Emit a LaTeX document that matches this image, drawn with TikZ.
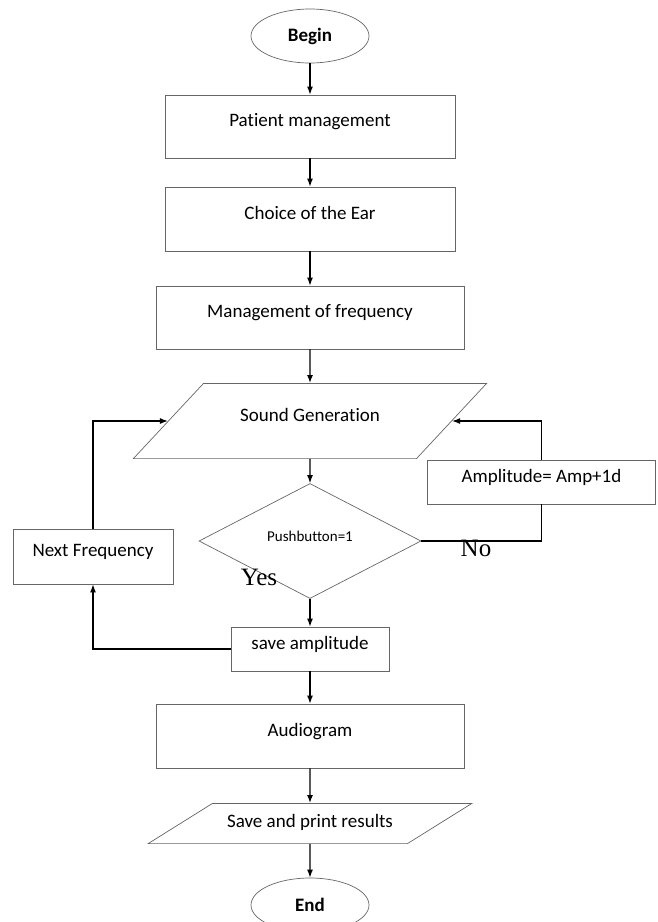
\documentclass[tikz,border=0pt]{standalone}
\usepackage{fontspec}
\setmainfont{Carlito}[Ligatures=NoCommon]
\newfontfamily\yesnofont{Liberation Serif}
\usetikzlibrary{shapes.geometric,positioning,arrows.meta}

\begin{document}
\begin{tikzpicture}[x=1pt,y=1pt,on grid,
 every node/.style={font=\fontsize{19}{23}\selectfont},
 term/.style={ellipse,draw=black!60,line width=0.7pt,minimum width=118pt,minimum height=54pt,font=\fontsize{19}{23}\selectfont\bfseries},
 proc/.style={rectangle,draw=black!60,line width=0.7pt,text height=10pt,text depth=10pt},
 io/.style={trapezium,draw=black!60,line width=0.7pt,inner xsep=0pt,align=flush center},
 test/.style={diamond,draw=black!60,line width=0.7pt,minimum width=222pt,minimum height=97pt,text height=8pt,text depth=8pt,font=\fontsize{15}{18}\selectfont},
 answer/.style={font=\fontsize{25}{30}\yesnofont},
 flow/.style={-{Latex[length=8pt,width=6pt]},line width=1.3pt},
 link/.style={line width=1.3pt}]
 \useasboundingbox (0,0) rectangle (657,-922);
 % main column
 \node[term] (s_begin) at (310,-36) {Begin};
 \node[proc,minimum width=290pt,minimum height=63pt] (patient)[below=90.5pt of s_begin] {Patient management};
 \node[proc,minimum width=290pt,minimum height=64pt] (choice)[below=92.5pt of patient] {Choice of the Ear};
 \node[proc,minimum width=308pt,minimum height=63pt] (freq)[below=98.5pt of choice] {Management of frequency};
 \node[io,trapezium left angle=47,trapezium right angle=133,text width=213pt,inner ysep=27.6pt,text height=10pt,text depth=10pt] (sound)[below=103.5pt of freq] {Sound Generation};
 \node[test] (push)[below=120pt of sound] {Pushbutton=1};
 \node[proc,minimum width=158pt,minimum height=44pt,text height=8pt,text depth=8pt] (saveamp)[below=108pt of push] {save amplitude};
 \node[proc,minimum width=308pt,minimum height=64pt] (audio)[below=87pt of saveamp] {Audiogram};
 \node[io,trapezium left angle=32,trapezium right angle=148,text width=195pt,inner ysep=11.6pt,text height=12pt,text depth=5pt] (print)[below=87.5pt of audio] {Save and print results};
 \node[term] (s_end)[below=81.5pt of print] {End};
 % side boxes
 \node[proc,minimum width=228pt,minimum height=44pt,text height=8pt,text depth=8pt] (amp)[below right=61pt and 231.5pt of sound] {Amplitude= Amp+1d};
 \node[proc,minimum width=160pt,minimum height=55pt] (next)[below left=15.5pt and 217pt of push] {Next Frequency};
 \node[answer] (yes)[below left=36pt and 51pt of push] {Yes};
 \node[answer] (no)[below right=7pt and 166pt of push] {No};
 \path[flow]
 (s_begin) edge (patient)
 (patient) edge (choice)
 (choice) edge (freq)
 (freq) edge (sound)
 (sound) edge (push)
 (push) edge (saveamp)
 (saveamp) edge (audio)
 (audio) edge (print)
 (print) edge (s_end);
 \draw[link] (push.east) -| (amp.south);
 \draw[flow] (amp.north) |- (sound.east);
 \draw[flow] (saveamp.west) -| (next.south);
 \draw[flow] (next.north) |- (sound.west);
\end{tikzpicture}
\end{document}
